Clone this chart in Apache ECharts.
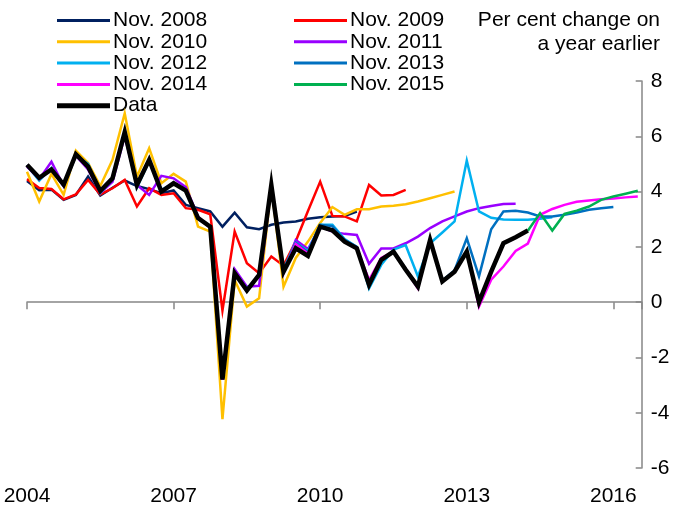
<!DOCTYPE html>
<html>
<head>
<meta charset="utf-8">
<script src="https://cdn.jsdelivr.net/npm/echarts@6/dist/echarts.min.js"></script>
<style>html,body{margin:0;padding:0;background:#fff}#c{width:677px;height:508px}</style>
</head>
<body>
<div id="c"></div>
<script>
// Quarterly observations, first quarter = 2004 Q1
const startYear = 2004;
const xTickYears = [2004, 2007, 2010, 2013, 2016];
const yTicks = [-6, -4, -2, 0, 2, 4, 6, 8];
const seriesNames = ['Nov. 2008','Nov. 2009','Nov. 2010','Nov. 2011','Nov. 2012','Nov. 2013','Nov. 2014','Nov. 2015','Data'];

const nov2008 = [4.38,4.05,4.07,3.70,3.88,4.54,3.86,4.14,4.40,4.20,4.09,3.94,4.04,3.52,3.40,3.28,2.73,3.24,2.71,2.64,2.80,2.88,2.92,3.02,3.07,3.10,3.12,3.28];
const nov2009 = [4.45,4.13,4.09,3.72,3.90,4.42,3.90,4.12,4.42,3.46,4.12,3.88,3.94,3.40,3.34,3.18,-0.30,2.55,1.41,1.05,1.65,1.32,2.20,3.30,4.36,3.12,3.10,2.92,4.24,3.86,3.88,4.06];
const nov2010 = [4.72,3.64,4.64,3.88,5.48,5.03,4.20,5.15,6.83,4.54,5.57,4.30,4.64,4.36,2.73,2.55,-4.23,0.80,-0.16,0.14,4.20,0.56,1.60,2.19,2.86,3.44,3.16,3.36,3.36,3.46,3.49,3.54,3.64,3.76,3.88,4.00];
const nov2011 = [4.90,4.45,5.08,4.20,5.30,4.80,3.95,4.35,6.00,4.24,3.88,4.57,4.48,4.16,3.10,2.68,-2.80,1.19,0.56,0.59,4.20,1.05,2.25,1.92,2.73,2.55,2.47,2.43,1.39,1.94,1.94,2.13,2.37,2.68,2.92,3.10,3.28,3.40,3.48,3.55,3.56];
const nov2012 = [4.95,4.40,4.85,4.20,5.30,5.00,3.95,4.45,6.10,4.15,5.10,4.05,4.30,4.05,3.05,2.70,-2.80,1.00,0.50,0.95,4.20,1.20,2.15,1.85,2.80,2.80,2.28,1.99,0.50,1.35,1.90,2.06,0.93,2.13,2.52,2.92,5.12,3.28,3.05,2.99,2.98,2.98,3.02,3.07];
const nov2013 = [4.95,4.45,4.80,4.20,5.35,4.95,4.00,4.45,6.15,4.20,5.15,4.00,4.30,4.04,3.04,2.73,-2.80,1.05,0.45,1.00,4.24,1.15,2.15,1.80,2.80,2.75,2.25,2.00,0.60,1.55,1.85,1.20,0.60,2.25,0.78,1.15,2.31,0.93,2.64,3.28,3.31,3.24,3.10,3.10,3.16,3.24,3.34,3.40,3.44];
const nov2014 = [4.95,4.45,4.80,4.20,5.35,4.90,4.00,4.45,6.15,4.24,5.15,4.00,4.30,4.04,3.04,2.73,-2.80,1.05,0.45,1.00,4.24,1.10,2.10,1.75,2.70,2.62,2.20,1.95,0.80,1.60,1.83,1.17,0.50,2.25,0.75,1.10,1.83,-0.16,0.81,1.29,1.85,2.12,3.16,3.37,3.52,3.63,3.68,3.72,3.75,3.79,3.82];
const nov2015 = [null,null,null,null,null,null,null,null,null,null,null,null,null,null,null,null,null,null,null,null,null,null,null,null,null,null,null,null,null,null,null,null,null,null,null,null,null,null,null,null,null,2.58,3.22,2.59,3.19,3.31,3.46,3.70,3.82,3.92,4.03];
const dataActual = [4.97,4.50,4.80,4.25,5.35,4.90,4.02,4.48,6.15,4.24,5.15,4.00,4.30,4.04,3.04,2.73,-2.80,1.05,0.42,0.99,4.24,1.10,1.95,1.67,2.73,2.60,2.19,1.95,0.63,1.53,1.83,1.17,0.56,2.25,0.75,1.10,1.83,0.00,1.10,2.13,2.35,2.59];

const seriesValues = [nov2008, nov2009, nov2010, nov2011, nov2012, nov2013, nov2014, nov2015, dataActual];
const seriesColors = ['#002060','#FF0000','#FFC000','#9900FF','#00B0F0','#0070C0','#FF00FF','#00B050','#000000'];

const FONT = '"Liberation Sans", Arial, sans-serif';
const toPairs = arr => arr.map((v, i) => [startYear + i / 4, v]).filter(p => p[1] !== null);

const series = seriesNames.map((name, k) => ({
  name: name,
  type: 'line',
  data: toPairs(seriesValues[k]),
  symbol: 'none',
  showSymbol: false,
  smooth: false,
  connectNulls: false,
  lineStyle: { color: seriesColors[k], width: name === 'Data' ? 4.5 : 2.5, join: 'miter' },
  itemStyle: { color: seriesColors[k] },
  z: k + 2,
  animation: false
}));

const thinIcon = 'path://M0,0 L53,0 L53,3 L0,3 Z';
const thickIcon = 'path://M0,0 L53,0 L53,5 L0,5 Z';
const legendItems = names => names.map(n => ({ name: n, icon: n === 'Data' ? thickIcon : thinIcon }));

const legendCommon = {
  orient: 'vertical',
  top: 5,
  itemWidth: 53,
  itemHeight: 14,
  itemGap: 0.3,
  textStyle: { fontSize: 21, color: '#000', fontFamily: FONT, padding: [0, 0, 0, -2] },
  selectedMode: false
};

const chart = echarts.init(document.getElementById('c'), null, { renderer: 'canvas' });
chart.setOption({
  animation: false,
  backgroundColor: '#fff',
  textStyle: { fontFamily: FONT },
  grid: { left: 27, right: 35.3, top: 81, bottom: 40, containLabel: false },
  legend: [
    Object.assign({}, legendCommon, { left: 52, data: legendItems(['Nov. 2008','Nov. 2010','Nov. 2012','Nov. 2014','Data']) }),
    Object.assign({}, legendCommon, { left: 289, data: legendItems(['Nov. 2009','Nov. 2011','Nov. 2013','Nov. 2015']) })
  ],
  graphic: [
    { type: 'text', right: 17, top: 10, style: { text: 'Per cent change on', font: '21px ' + FONT, fill: '#000', textAlign: 'right' } },
    { type: 'text', right: 17, top: 34, style: { text: 'a year earlier', font: '21px ' + FONT, fill: '#000', textAlign: 'right' } }
  ],
  xAxis: [
    {
      type: 'value', min: xTickYears[0], max: 2016.58, interval: 3, position: 'bottom',
      axisLine: { onZero: true, lineStyle: { color: '#868686', width: 1.5 } },
      axisTick: { show: true, length: 7, lineStyle: { color: '#868686', width: 1.5 } },
      axisLabel: { show: false },
      splitLine: { show: false }
    },
    {
      type: 'value', min: xTickYears[0], max: 2016.58, interval: 3, position: 'bottom',
      axisLine: { show: false, onZero: false },
      axisTick: { show: false },
      axisLabel: {
        show: true, fontSize: 21, color: '#000', fontFamily: FONT, margin: 18,
        showMaxLabel: false,
        formatter: v => (xTickYears.indexOf(Math.round(v * 100) / 100) >= 0 ? String(v) : '')
      },
      splitLine: { show: false }
    }
  ],
  yAxis: {
    type: 'value', position: 'right', min: yTicks[0], max: yTicks[yTicks.length - 1], interval: 2,
    axisLine: { show: true, onZero: false, lineStyle: { color: '#868686', width: 1.5 } },
    axisTick: { show: true, inside: true, length: 6, lineStyle: { color: '#868686', width: 1.5 } },
    axisLabel: { fontSize: 21, color: '#000', fontFamily: FONT, margin: 9 },
    splitLine: { show: false }
  },
  series: series
});
</script>
</body>
</html>
